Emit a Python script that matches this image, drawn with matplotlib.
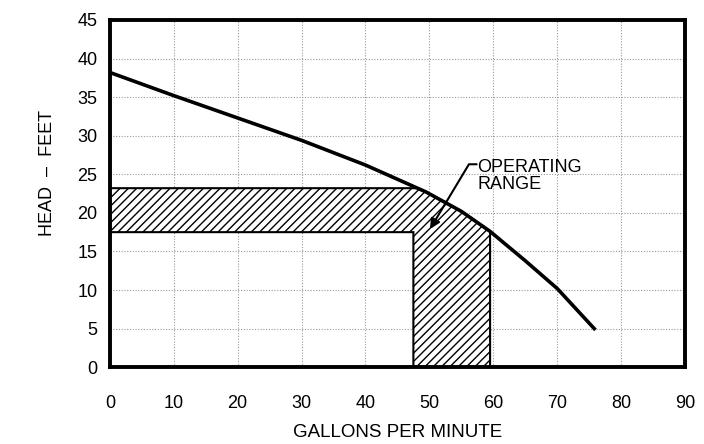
import numpy as np
import matplotlib.pyplot as plt
from matplotlib.patches import Polygon

# pump curve
gpm = [0, 10, 20, 30, 40, 49.5, 55, 59.5, 65, 70, 75.8]
head = [38.2, 35.2, 32.3, 29.4, 26.2, 22.7, 20.2, 17.6, 13.8, 10.2, 5.0]

# operating range limits
flow_lo, flow_hi = 47.5, 59.5
head_lo, head_hi = 17.5, 23.2

xticks = list(range(0, 91, 10))
yticks = list(range(0, 46, 5))

plt.rcParams['font.family'] = ['Liberation Sans', 'DejaVu Sans']
plt.rcParams['hatch.linewidth'] = 1.0

fig = plt.figure(figsize=(7.04, 4.44), dpi=100)
ax = fig.add_axes([0.156, 0.173, 0.817, 0.782])

# hatched region bounded by the curve
x_top = np.interp(head_hi, head[::-1], gpm[::-1])
curve_pts = [(g, h) for g, h in zip(gpm, head) if x_top < g < flow_hi]
pts = [(0, head_hi), (x_top, head_hi)] + curve_pts + \
      [(flow_hi, np.interp(flow_hi, gpm, head)), (flow_hi, 0), (flow_lo, 0),
       (flow_lo, head_lo), (0, head_lo)]
ax.add_patch(Polygon(pts, closed=True, facecolor='white', edgecolor='black',
                     hatch='////', linewidth=1.5, zorder=2))

ax.plot(gpm, head, color='black', linewidth=2.6, zorder=3)

ax.text(57.5, 27.0, 'OPERATING\nRANGE', fontsize=13, ha='left', va='top',
        linespacing=1.0, zorder=4)
ax.annotate('', xy=(50.1, 17.9), xytext=(57.4, 26.3),
            arrowprops=dict(arrowstyle='-|>', color='black', lw=1.5,
                            mutation_scale=15, shrinkA=0, shrinkB=0,
                            connectionstyle='angle,angleA=0,angleB=59,rad=0'),
            zorder=4)

ax.set_xlim(0, 90)
ax.set_ylim(0, 45)
ax.set_xticks(xticks)
ax.set_yticks(yticks)
ax.tick_params(length=0, labelsize=13)
ax.tick_params(axis='y', pad=9)
ax.tick_params(axis='x', pad=20)
ax.grid(True, color='#999999', linestyle=(0, (1, 1.5)), linewidth=0.8)
ax.set_axisbelow(True)
for s in ax.spines.values():
    s.set_linewidth(2.8)

ax.set_xlabel('GALLONS PER MINUTE', fontsize=13.5, labelpad=9)
ax.set_ylabel('HEAD  –  FEET', fontsize=13)
ax.yaxis.set_label_coords(-0.093, 0.56)

fig.savefig('out.png', dpi=100)
